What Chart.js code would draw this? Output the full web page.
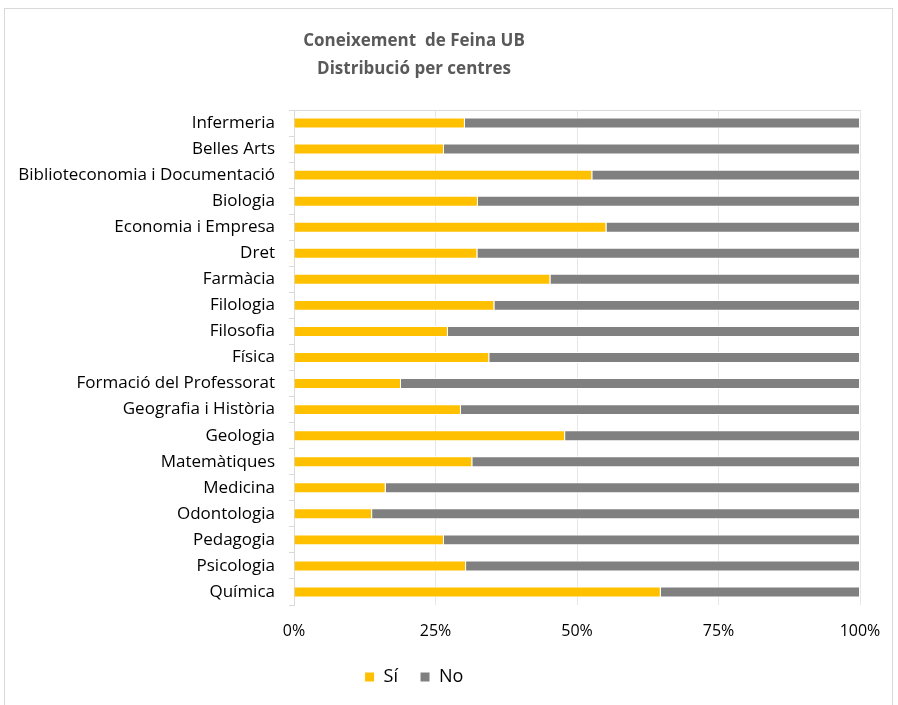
<!DOCTYPE html>
<html>
<head>
<meta charset="utf-8">
<script src="https://cdn.jsdelivr.net/npm/chart.js@4"></script>
<style>
  body { margin: 0; background: #fff; }
  #wrap { position: relative; width: 898px; height: 705px; }
  #frame { position: absolute; left: 4px; top: 8px; width: 889px; height: 700px; border: 1px solid #d9d9d9; box-sizing: border-box; }
  canvas { position: absolute; left: 0; top: 0; }
</style>
</head>
<body>
<div id="wrap">
  <div id="frame"></div>
  <canvas id="centres" width="898" height="705"></canvas>
</div>
<script>
const centres = ["Infermeria","Belles Arts","Biblioteconomia i Documentació","Biologia","Economia i Empresa","Dret","Farmàcia","Filologia","Filosofia","Física","Formació del Professorat","Geografia i Història","Geologia","Matemàtiques","Medicina","Odontologia","Pedagogia","Psicologia","Química"];
const valuesSi = [30.2,26.5,52.7,32.5,55.2,32.4,45.3,35.4,27.2,34.5,18.9,29.5,47.9,31.5,16.2,13.8,26.5,30.4,64.8];
const valuesNo = valuesSi.map(v => 100 - v);
const titleLines = ["Coneixement  de Feina UB", "Distribució per centres"];

Chart.defaults.font.family = "'Open Sans'";
Chart.defaults.color = "#000";

// title and legend sit a bit left of the canvas centre in the original
const shiftBlocks = {
	id: "shiftBlocks",
	afterLayout(chart) {
		const t = chart.titleBlock;
		if (t) { t.left -= 16; t.right -= 16; }
		const l = chart.legend;
		if (l) { l.left -= 16; l.right -= 16; }
	}
};

new Chart("centres", {
	type: "bar",
	data: {
		labels: centres,
		datasets: [{
			label: "Sí",
			data: valuesSi,
			backgroundColor: "#FFC000",
			borderColor: "#fff",
			borderWidth: 1,
			barPercentage: 0.42,
			categoryPercentage: 1
		}, {
			label: "No",
			data: valuesNo,
			backgroundColor: "#808080",
			borderColor: "#fff",
			borderWidth: 1,
			barPercentage: 0.42,
			categoryPercentage: 1
		}]
	},
	options: {
		indexAxis: "y",
		responsive: false,
		animation: false,
		layout: { padding: { left: 0, right: 38, top: 0, bottom: 9 } },
		scales: {
			x: {
				stacked: true,
				min: 0,
				max: 100,
				ticks: { stepSize: 25, padding: 17, font: { size: 16 }, callback: v => v + "%" },
				grid: { color: "#e6e6e6", drawTicks: false },
				border: { display: false },
				afterFit: s => { s.height = 41; }
			},
			x2: {
				position: "top",
				ticks: { display: false },
				grid: { display: false, drawTicks: false },
				border: { color: "#d9d9d9" }
			},
			y: {
				stacked: true,
				ticks: { padding: 14, font: { size: 17 } },
				grid: { drawOnChartArea: false, tickLength: 5, color: "#d9d9d9" },
				border: { color: "#d9d9d9" },
				afterFit: s => { s.width = 294; }
			}
		},
		plugins: {
			title: {
				display: true,
				text: titleLines,
				color: "#595959",
				font: { size: 17, weight: "bold", lineHeight: "28px" },
				padding: { top: 27, bottom: 27 }
			},
			legend: {
				position: "bottom",
				labels: { boxWidth: 10, boxHeight: 10, padding: 22, color: "#000", font: { size: 18 } }
			},
			tooltip: { enabled: false }
		}
	},
	plugins: [shiftBlocks]
});
</script>
</body>
</html>
